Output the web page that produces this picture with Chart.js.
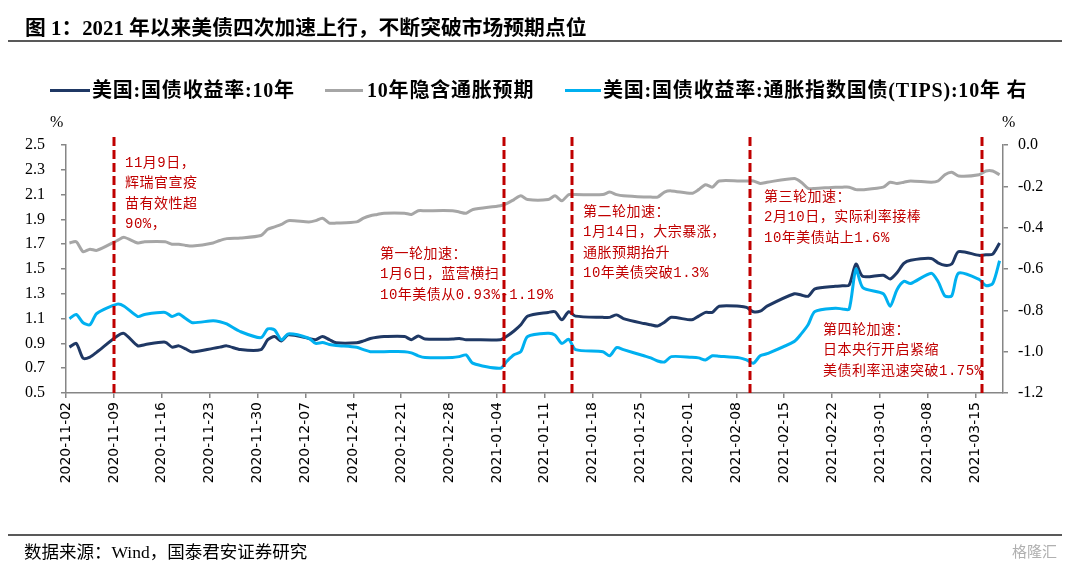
<!DOCTYPE html>
<html>
<head>
<meta charset="utf-8">
<script src="https://cdn.jsdelivr.net/npm/chart.js@4.4.1/dist/chart.umd.min.js"></script>
<style>
  body { margin: 0; background: #fff; }
  #wrap { position: relative; width: 1080px; height: 572px; overflow: hidden; background: #fff; }
  #c { position: absolute; left: 0; top: 0; }
  .abs { position: absolute; white-space: nowrap; }
  .title { left: 25px; top: 11px; font: bold 20.8px "Liberation Serif", "Noto Sans CJK SC"; color: #000; }
  .rule { position: absolute; left: 8px; width: 1054px; height: 2px; background: #595959; }
  .leg { top: 78px; font: bold 20px "Liberation Serif", "Noto Sans CJK SC"; color: #000; line-height: 24px; letter-spacing: 0.8px; }
  .legline { position: absolute; top: 89px; height: 3px; }
  .unit { font: 16px "Liberation Serif"; color: #000; top: 113px; }
  .note { font: 14px "Liberation Mono", "Noto Sans CJK SC"; color: #c00000; line-height: 20.3px; letter-spacing: 0.5px; }
  .src { left: 24px; top: 538px; font: 17.5px "Liberation Serif", "Noto Sans CJK SC"; color: #000; }
  .mark { left: 1012px; top: 540px; font: 15px "Noto Sans CJK SC"; color: #b0b0b0; }
</style>
</head>
<body>
<div id="wrap">
  <canvas id="c" width="1080" height="572"></canvas>
  <div class="abs title">图 1：2021 年以来美债四次加速上行，不断突破市场预期点位</div>
  <div class="rule" style="top:40px"></div>

  <div class="legline" style="left:50px; width:40px; background:#1f3864"></div>
  <div class="abs leg" style="left:92px">美国:国债收益率:10年</div>
  <div class="legline" style="left:325px; width:38px; background:#a6a6a6"></div>
  <div class="abs leg" style="left:367px">10年隐含通胀预期</div>
  <div class="legline" style="left:565px; width:36px; background:#00b0f0"></div>
  <div class="abs leg" style="left:603px">美国:国债收益率:通胀指数国债(TIPS):10年 右</div>

  <div class="abs unit" style="left:50px">%</div>
  <div class="abs unit" style="left:1002px">%</div>

  <div class="abs note" style="left:125px; top:153px">11月9日，<br>辉瑞官宣疫<br>苗有效性超<br>90%，</div>
  <div class="abs note" style="left:380px; top:244px">第一轮加速：<br>1月6日，蓝营横扫<br>10年美债从0.93%-1.19%</div>
  <div class="abs note" style="left:583px; top:202px">第二轮加速：<br>1月14日，大宗暴涨，<br>通胀预期抬升<br>10年美债突破1.3%</div>
  <div class="abs note" style="left:764px; top:187px">第三轮加速：<br>2月10日，实际利率接棒<br>10年美债站上1.6%</div>
  <div class="abs note" style="left:823px; top:320px">第四轮加速：<br>日本央行开启紧缩<br>美债利率迅速突破1.75%</div>

  <div class="rule" style="top:534px"></div>
  <div class="abs src">数据来源：Wind，国泰君安证券研究</div>
  <div class="abs mark">格隆汇</div>
</div>
<script>
// trading days shown in the chart
var dates = [
  '2020-11-02','2020-11-03','2020-11-04','2020-11-05','2020-11-06','2020-11-09','2020-11-10','2020-11-12','2020-11-13',
  '2020-11-16','2020-11-17','2020-11-18','2020-11-19','2020-11-20','2020-11-23','2020-11-24','2020-11-25','2020-11-27','2020-11-30',
  '2020-12-01','2020-12-02','2020-12-03','2020-12-04','2020-12-07','2020-12-08','2020-12-09','2020-12-10','2020-12-11',
  '2020-12-14','2020-12-15','2020-12-16','2020-12-17','2020-12-18','2020-12-21','2020-12-22','2020-12-23','2020-12-24',
  '2020-12-28','2020-12-29','2020-12-30','2020-12-31',
  '2021-01-04','2021-01-05','2021-01-06','2021-01-07','2021-01-08','2021-01-11','2021-01-12','2021-01-13','2021-01-14','2021-01-15',
  '2021-01-19','2021-01-20','2021-01-21','2021-01-22','2021-01-25','2021-01-26','2021-01-27','2021-01-28','2021-01-29',
  '2021-02-01','2021-02-02','2021-02-03','2021-02-04','2021-02-05','2021-02-08','2021-02-09','2021-02-10','2021-02-11','2021-02-12',
  '2021-02-16','2021-02-17','2021-02-18','2021-02-19','2021-02-22','2021-02-23','2021-02-24','2021-02-25','2021-02-26',
  '2021-03-01','2021-03-02','2021-03-03','2021-03-04','2021-03-05','2021-03-08','2021-03-09','2021-03-10','2021-03-11','2021-03-12',
  '2021-03-15','2021-03-16','2021-03-17','2021-03-18'
];

// 美国:国债收益率:10年 (left axis)
var nominal10y = [
  0.87,0.90,0.78,0.79,0.83,0.96,0.98,0.88,0.89,0.91,0.87,0.88,0.855,0.83,0.86,0.87,0.88,0.85,0.85,
  0.93,0.955,0.92,0.97,0.94,0.93,0.955,0.93,0.905,0.905,0.92,0.94,0.95,0.955,0.955,0.93,0.96,0.935,0.935,0.94,0.93,0.93,
  0.93,0.96,1.00,1.05,1.12,1.15,1.155,1.09,1.155,1.12,1.11,1.11,1.13,1.10,1.06,1.05,1.04,1.07,1.11,
  1.09,1.12,1.15,1.15,1.20,1.20,1.19,1.155,1.16,1.20,1.30,1.29,1.28,1.34,1.36,1.365,1.37,1.54,1.44,
  1.45,1.42,1.47,1.545,1.57,1.585,1.55,1.53,1.54,1.64,1.61,1.615,1.62,1.71
];

// 10年隐含通胀预期 (left axis)
var breakeven10y = [
  1.71,1.72,1.64,1.66,1.65,1.73,1.755,1.71,1.72,1.72,1.70,1.70,1.69,1.685,1.71,1.73,1.745,1.75,1.77,
  1.82,1.84,1.86,1.89,1.88,1.89,1.91,1.87,1.87,1.88,1.91,1.93,1.94,1.95,1.95,1.94,1.97,1.97,1.97,1.96,1.95,1.98,
  2.01,2.03,2.06,2.09,2.06,2.06,2.09,2.05,2.10,2.10,2.10,2.12,2.10,2.09,2.08,2.08,2.08,2.12,2.13,
  2.11,2.14,2.18,2.16,2.21,2.21,2.21,2.21,2.19,2.20,2.23,2.20,2.15,2.15,2.16,2.16,2.16,2.14,2.14,
  2.16,2.20,2.19,2.20,2.21,2.20,2.21,2.26,2.28,2.25,2.26,2.29,2.29,2.26
];

// 美国:国债收益率:通胀指数国债(TIPS):10年 (right axis)
var tips10y = [
  -0.84,-0.82,-0.86,-0.87,-0.815,-0.77,-0.78,-0.83,-0.82,-0.81,-0.83,-0.818,-0.84,-0.86,-0.85,-0.855,-0.866,-0.903,-0.932,
  -0.89,-0.895,-0.943,-0.914,-0.935,-0.96,-0.956,-0.965,-0.97,-0.979,-0.99,-1.0,-1.0,-1.0,-1.0,-1.006,-1.02,-1.028,-1.028,-1.024,-1.016,-1.056,
  -1.08,-1.045,-1.015,-1.0,-0.927,-0.911,-0.92,-0.96,-0.94,-0.99,-1.0,-1.02,-0.98,-0.99,-1.02,-1.03,-1.045,-1.05,-1.024,
  -1.027,-1.03,-1.04,-1.02,-1.022,-1.03,-1.04,-1.056,-1.02,-1.01,-0.95,-0.914,-0.87,-0.806,-0.79,-0.793,-0.795,-0.60,-0.69,
  -0.72,-0.78,-0.70,-0.66,-0.67,-0.62,-0.66,-0.73,-0.73,-0.62,-0.65,-0.68,-0.67,-0.56
];

var xTickLabels = ['2020-11-02','2020-11-09','2020-11-16','2020-11-23','2020-11-30','2020-12-07','2020-12-14','2020-12-21','2020-12-28',
  '2021-01-04','2021-01-11','2021-01-18','2021-01-25','2021-02-01','2021-02-08','2021-02-15','2021-02-22','2021-03-01','2021-03-08','2021-03-15'];
var leftTicks = [0.5, 0.7, 0.9, 1.1, 1.3, 1.5, 1.7, 1.9, 2.1, 2.3, 2.5];
var rightTicks = [-1.2, -1.0, -0.8, -0.6, -0.4, -0.2, 0.0];
var eventDates = ['2020-11-09', '2021-01-05', '2021-01-15', '2021-02-10', '2021-03-16'];

function dayOf(s) {
  var p = s.split('-');
  return (Date.UTC(+p[0], +p[1] - 1, +p[2]) - Date.UTC(2020, 10, 2)) / 86400000;
}
function points(vals) {
  // each day sits in the middle of its slot, like a date axis "between tick marks"
  return dates.map(function (d, i) { return { x: dayOf(d) + 0.5, y: vals[i] }; });
}
var labelByDay = {};
xTickLabels.forEach(function (l) { labelByDay[dayOf(l)] = l; });

var axisGray = '#868686';
var eventLines = {
  id: 'eventLines',
  afterDatasetsDraw: function (chart) {
    var ctx = chart.ctx, area = chart.chartArea, x = chart.scales.x;
    ctx.save();
    ctx.strokeStyle = '#c00000';
    ctx.lineWidth = 3;
    ctx.setLineDash([9, 4]);
    eventDates.forEach(function (d) {
      var px = Math.round(x.getPixelForValue(dayOf(d)));
      ctx.beginPath();
      ctx.moveTo(px, area.top - 8);
      ctx.lineTo(px, area.bottom);
      ctx.stroke();
    });
    ctx.restore();
  }
};

var ctx = document.getElementById('c').getContext('2d');
var chart = new Chart(ctx, {
  type: 'line',
  data: {
    datasets: [
      { label: '美国:国债收益率:10年', data: points(nominal10y), yAxisID: 'y', borderColor: '#1f3864', borderWidth: 3, order: 1 },
      { label: '10年隐含通胀预期', data: points(breakeven10y), yAxisID: 'y', borderColor: '#a6a6a6', borderWidth: 3, order: 2 },
      { label: '美国:国债收益率:通胀指数国债(TIPS):10年', data: points(tips10y), yAxisID: 'y2', borderColor: '#00b0f0', borderWidth: 3, order: 0 }
    ]
  },
  options: {
    responsive: false,
    animation: false,
    parsing: false,
    layout: { padding: { top: 145, left: 0, right: 0, bottom: 0 } },
    elements: { point: { radius: 0 }, line: { tension: 0.25, fill: false } },
    plugins: { legend: { display: false }, tooltip: { enabled: false } },
    scales: {
      x: {
        type: 'linear', min: 0, max: 137,
        grid: { drawOnChartArea: false, drawTicks: true, tickLength: 5, color: axisGray, lineWidth: 1.5 },
        border: { color: axisGray, width: 1.5 },
        afterBuildTicks: function (s) { s.ticks = xTickLabels.map(function (l) { return { value: dayOf(l) }; }); },
        afterFit: function (s) { s.height = 179; },
        ticks: {
          autoSkip: false, minRotation: 90, maxRotation: 90, padding: 4, color: '#000',
          font: { family: 'DejaVu Sans', size: 14 },
          callback: function (v) { return labelByDay[v] || ''; }
        }
      },
      y: {
        position: 'left', min: 0.5, max: 2.5,
        grid: { drawOnChartArea: false, drawTicks: true, tickLength: 5, color: axisGray, lineWidth: 1.5 },
        border: { color: axisGray, width: 1.5 },
        afterBuildTicks: function (s) { s.ticks = leftTicks.map(function (v) { return { value: v }; }); },
        afterFit: function (s) { s.width = 66; },
        ticks: { padding: 16, color: '#000', font: { family: 'Liberation Serif', size: 16 },
          callback: function (v) { return v.toFixed(1); } }
      },
      y2: {
        position: 'right', min: -1.2, max: 0,
        grid: { drawOnChartArea: false, drawTicks: true, tickLength: 5, color: axisGray, lineWidth: 1.5 },
        border: { color: axisGray, width: 1.5 },
        afterBuildTicks: function (s) { s.ticks = rightTicks.map(function (v) { return { value: v }; }); },
        afterFit: function (s) { s.width = 77; },
        ticks: { padding: 10, color: '#000', font: { family: 'Liberation Serif', size: 16 },
          callback: function (v) { return Math.abs(v) < 1e-9 ? '0.0' : v.toFixed(1); } }
      }
    }
  },
  plugins: [eventLines]
});
</script>
</body>
</html>
